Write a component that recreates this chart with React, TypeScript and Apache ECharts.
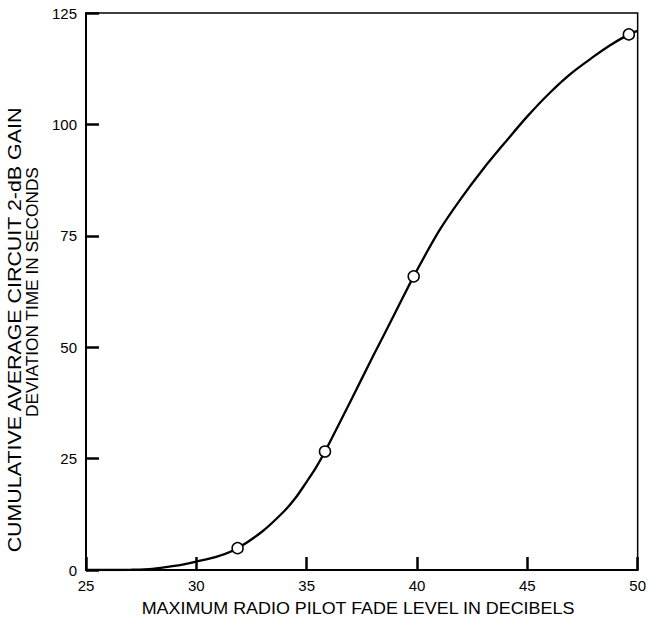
import React, { useEffect, useRef } from "react";
import * as echarts from "echarts";

const curveX = [25, 26, 27, 28, 29, 30, 31, 31.87, 33, 34, 34.5, 35, 35.4, 35.83, 37, 38, 39, 39.85, 41, 42, 43, 44, 45, 46, 47, 48, 48.7, 49.6, 50];
const curveY = [0, 0, 0.05, 0.25, 0.9, 1.9, 3.1, 4.9, 8.7, 13.3, 16.2, 19.8, 22.8, 26.6, 38.0, 47.9, 57.6, 65.9, 76.1, 83.4, 90.0, 96.0, 101.8, 107.0, 111.5, 115.2, 117.6, 120.2, 121.0];
const pointX = [31.87, 35.83, 39.85, 49.6];
const pointY = [4.9, 26.6, 65.9, 120.2];

const xTitle = "MAXIMUM RADIO PILOT FADE LEVEL IN DECIBELS";
const yTitle1 = "CUMULATIVE AVERAGE CIRCUIT 2-dB GAIN";
const yTitle2 = "DEVIATION TIME IN SECONDS";

const FONT = "'Liberation Sans', Arial, Helvetica, sans-serif";

export default function App() {
  const ref = useRef<HTMLDivElement>(null);
  useEffect(() => {
    if (!ref.current) return;
    const chart = echarts.init(ref.current, undefined, { renderer: "svg" });
    chart.setOption({
      animation: false,
      backgroundColor: "#fff",
      grid: {
        left: 86,
        right: 10,
        top: 13,
        bottom: 49,
        show: true,
        borderColor: "#000",
        borderWidth: 1.5,
        backgroundColor: "transparent",
      },
      xAxis: {
        type: "value",
        min: 25,
        max: 50,
        interval: 5,
        axisLine: { show: true, lineStyle: { color: "#000", width: 2 } },
        axisTick: { show: true, inside: true, length: 13, lineStyle: { color: "#000", width: 2.5 } },
        axisLabel: { color: "#000", fontSize: 15, fontFamily: FONT, margin: 8 },
        splitLine: { show: false },
      },
      yAxis: {
        type: "value",
        min: 0,
        max: 125,
        interval: 25,
        axisLine: { show: true, lineStyle: { color: "#000", width: 2 } },
        axisTick: { show: true, inside: true, length: 13, lineStyle: { color: "#000", width: 2.5 } },
        axisLabel: { color: "#000", fontSize: 15, fontFamily: FONT, margin: 9 },
        splitLine: { show: false },
      },
      graphic: [
        {
          type: "text",
          x: 358,
          y: 609,
          scaleX: 1.12,
          style: {
            text: xTitle,
            fontSize: 16,
            fontFamily: FONT,
            fill: "#000",
            textAlign: "center",
            textVerticalAlign: "middle",
          },
        },
        {
          type: "text",
          x: 15,
          y: 330,
          rotation: Math.PI / 2,
          scaleX: 1.19,
          style: {
            text: yTitle1,
            fontSize: 18,
            fontFamily: FONT,
            fill: "#000",
            textAlign: "center",
            textVerticalAlign: "middle",
          },
        },
        {
          type: "text",
          x: 33,
          y: 292,
          rotation: Math.PI / 2,
          scaleX: 1.08,
          style: {
            text: yTitle2,
            fontSize: 16,
            fontFamily: FONT,
            fill: "#000",
            textAlign: "center",
            textVerticalAlign: "middle",
          },
        },
      ],
      series: [
        {
          type: "line",
          data: curveX.map((x, i) => [x, curveY[i]]),
          smooth: 0.3,
          showSymbol: false,
          lineStyle: { color: "#000", width: 2.3 },
          z: 2,
        },
        {
          type: "scatter",
          data: pointX.map((x, i) => [x, pointY[i]]),
          symbol: "circle",
          symbolSize: 11,
          itemStyle: { color: "#fff", borderColor: "#000", borderWidth: 1.5, opacity: 1 },
          z: 3,
        },
      ],
    });
    return () => chart.dispose();
  }, []);
  return <div ref={ref} style={{ width: 649, height: 619, position: "absolute", left: 0, top: 0 }} />;
}
